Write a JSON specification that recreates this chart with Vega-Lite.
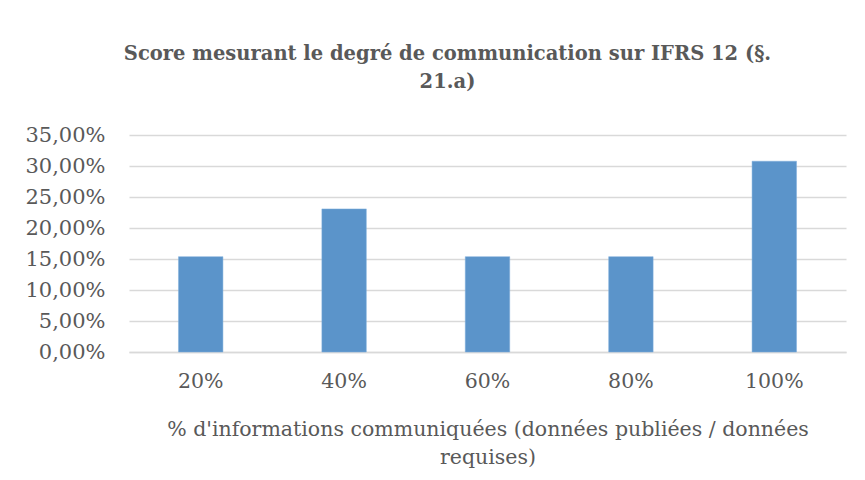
{
  "$schema": "https://vega.github.io/schema/vega-lite/v6.json",
  "autosize": "none",
  "width": 717,
  "height": 217,
  "padding": {"left": 129, "top": 135, "right": 19, "bottom": 128},
  "background": "white",
  "title": {
    "text": ["Score mesurant le degré de communication sur IFRS 12 (§.", "21.a)"],
    "font": "DejaVu Serif",
    "fontSize": 19.5,
    "fontWeight": "bold",
    "color": "#595959",
    "lineHeight": 28,
    "anchor": "middle",
    "dx": -40,
    "offset": 32
  },
  "data": {
    "values": [
      {"score": "20%", "part": 0.1538},
      {"score": "40%", "part": 0.2308},
      {"score": "60%", "part": 0.1538},
      {"score": "80%", "part": 0.1538},
      {"score": "100%", "part": 0.3077}
    ]
  },
  "mark": {"type": "bar", "color": "#5B94CA", "stroke": "#7FAEDC", "strokeWidth": 0.5},
  "encoding": {
    "x": {
      "field": "score",
      "type": "nominal",
      "sort": ["20%", "40%", "60%", "80%", "100%"],
      "scale": {"paddingInner": 0.69, "paddingOuter": 0.345},
      "axis": {
        "title": ["% d'informations communiquées (données publiées / données", "requises)"],
        "titleFont": "DejaVu Serif",
        "titleFontSize": 20.5,
        "titleFontWeight": "normal",
        "titleColor": "#595959",
        "titleLineHeight": 28,
        "titlePadding": 28,
        "labelFont": "DejaVu Serif",
        "labelFontSize": 20.5,
        "labelColor": "#595959",
        "labelAngle": 0,
        "labelPadding": 19,
        "ticks": false,
        "domainColor": "#D9D9D9",
        "domainWidth": 1.5
      }
    },
    "y": {
      "field": "part",
      "type": "quantitative",
      "scale": {"domain": [0, 0.35]},
      "axis": {
        "title": null,
        "values": [0, 0.05, 0.1, 0.15, 0.2, 0.25, 0.3, 0.35],
        "labelExpr": "replace(format(datum.value, '.2%'), '.', ',')",
        "labelFont": "DejaVu Serif",
        "labelFontSize": 21,
        "labelColor": "#595959",
        "labelPadding": 24,
        "ticks": false,
        "domain": false,
        "gridColor": "#D9D9D9",
        "gridWidth": 1.5
      }
    }
  },
  "config": {"view": {"stroke": null}}
}
